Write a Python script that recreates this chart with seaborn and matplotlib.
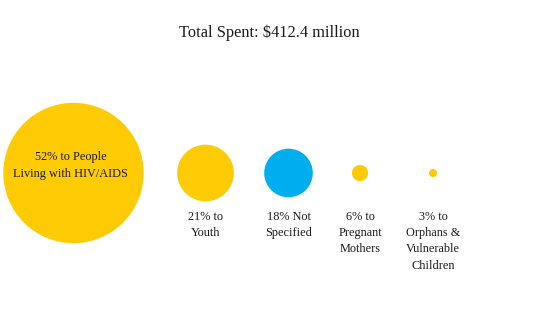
import matplotlib
matplotlib.use("Agg")
import matplotlib.pyplot as plt
import seaborn as sns
import pandas as pd

# ---- data ----
categories = ["People Living with HIV/AIDS", "Youth", "Not Specified",
              "Pregnant Mothers", "Orphans & Vulnerable Children"]
percent = [52, 21, 18, 6, 3]
labels = ["52% to People\nLiving with HIV/AIDS", "21% to\nYouth", "18% Not\nSpecified",
          "6% to\nPregnant\nMothers", "3% to\nOrphans &\nVulnerable\nChildren"]
groups = ["specified", "specified", "unspecified", "specified", "specified"]
title = "Total Spent: $412.4 million"

# ---- layout / style ----
W, H, DPI = 545, 328, 100
x_pos = [73.5, 205.5, 288.5, 360, 433]
y_row = 173
px_per_pct = 1.35  # circle radius in px per percentage point
palette = {"specified": "#FFCB05", "unspecified": "#00AEEF"}

sns.set_theme(style="white")
plt.rcParams["font.family"] = ["Liberation Serif", "DejaVu Serif"]

df = pd.DataFrame({"category": categories, "percent": percent, "label": labels,
                   "group": groups, "x": x_pos, "y": [y_row] * len(percent)})

fig = plt.figure(figsize=(W / DPI, H / DPI), dpi=DPI)
ax = fig.add_axes([0, 0, 1, 1])
sizes = {p: (2 * px_per_pct * p * 72 / DPI) ** 2 for p in percent}
sns.scatterplot(data=df, x="x", y="y", size="percent", sizes=sizes, hue="group",
                palette=palette, linewidth=0, legend=False, ax=ax)
ax.set_xlim(0, W)
ax.set_ylim(H, 0)
ax.axis("off")

ax.text(269, 33, title, ha="center", va="center", fontsize=11.8, color="#1a1a1a")

for i, row in df.iterrows():
    if i == 0:
        ax.text(row.x - 3, 165.5, row.label, ha="center", va="center",
                fontsize=8.8, color="#1a1a1a", linespacing=1.5)
    else:
        ax.text(row.x, 210.5, row.label, ha="center", va="top",
                fontsize=8.8, color="#1a1a1a", linespacing=1.5)

fig.savefig("out.png", dpi=DPI, facecolor="white")
